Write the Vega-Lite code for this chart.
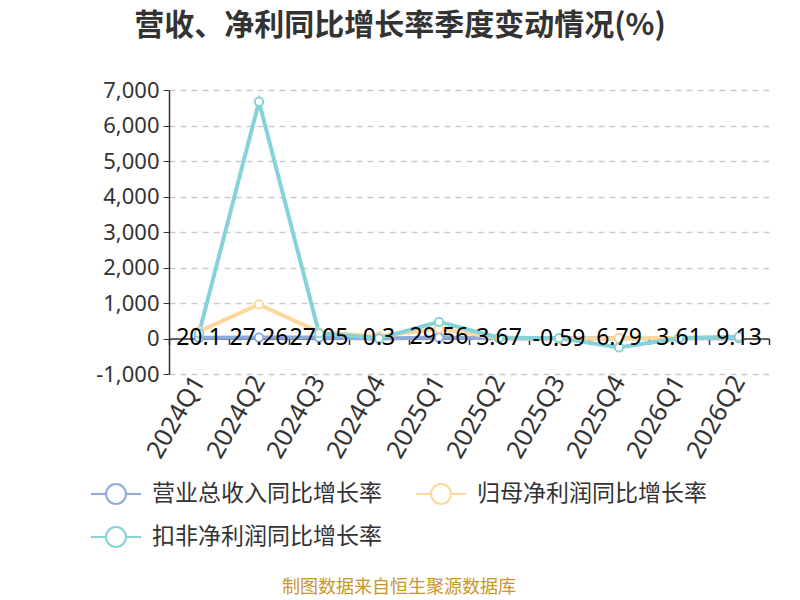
{
  "$schema": "https://vega.github.io/schema/vega-lite/v6.json",
  "autosize": {"type": "none"},
  "width": 600,
  "height": 284,
  "padding": {"left": 169, "top": 90, "right": 31, "bottom": 226},
  "background": "white",
  "title": {
    "text": "营收、净利同比增长率季度变动情况(%)",
    "fontSize": 30,
    "fontWeight": "bold",
    "color": "#333333",
    "font": "Noto Sans CJK SC",
    "anchor": "middle",
    "dx": -69,
    "offset": 38
  },
  "data": {
    "values": [
      {"quarter": "2024Q1", "series": "营业总收入同比增长率", "value": 20.1},
      {"quarter": "2024Q2", "series": "营业总收入同比增长率", "value": 27.26},
      {"quarter": "2024Q3", "series": "营业总收入同比增长率", "value": 27.05},
      {"quarter": "2024Q4", "series": "营业总收入同比增长率", "value": 0.3},
      {"quarter": "2025Q1", "series": "营业总收入同比增长率", "value": 29.56},
      {"quarter": "2025Q2", "series": "营业总收入同比增长率", "value": 3.67},
      {"quarter": "2025Q3", "series": "营业总收入同比增长率", "value": -0.59},
      {"quarter": "2025Q4", "series": "营业总收入同比增长率", "value": 6.79},
      {"quarter": "2026Q1", "series": "营业总收入同比增长率", "value": 3.61},
      {"quarter": "2026Q2", "series": "营业总收入同比增长率", "value": 9.13},
      {"quarter": "2024Q1", "series": "归母净利润同比增长率", "value": 200},
      {"quarter": "2024Q2", "series": "归母净利润同比增长率", "value": 960},
      {"quarter": "2024Q3", "series": "归母净利润同比增长率", "value": 180},
      {"quarter": "2024Q4", "series": "归母净利润同比增长率", "value": 60},
      {"quarter": "2025Q1", "series": "归母净利润同比增长率", "value": 280},
      {"quarter": "2025Q2", "series": "归母净利润同比增长率", "value": 10},
      {"quarter": "2025Q3", "series": "归母净利润同比增长率", "value": -10},
      {"quarter": "2025Q4", "series": "归母净利润同比增长率", "value": 10},
      {"quarter": "2026Q1", "series": "归母净利润同比增长率", "value": 20},
      {"quarter": "2026Q2", "series": "归母净利润同比增长率", "value": 40},
      {"quarter": "2024Q1", "series": "扣非净利润同比增长率", "value": 150},
      {"quarter": "2024Q2", "series": "扣非净利润同比增长率", "value": 6670},
      {"quarter": "2024Q3", "series": "扣非净利润同比增长率", "value": 150},
      {"quarter": "2024Q4", "series": "扣非净利润同比增长率", "value": 5},
      {"quarter": "2025Q1", "series": "扣非净利润同比增长率", "value": 470},
      {"quarter": "2025Q2", "series": "扣非净利润同比增长率", "value": 20},
      {"quarter": "2025Q3", "series": "扣非净利润同比增长率", "value": 10},
      {"quarter": "2025Q4", "series": "扣非净利润同比增长率", "value": -250},
      {"quarter": "2026Q1", "series": "扣非净利润同比增长率", "value": 5},
      {"quarter": "2026Q2", "series": "扣非净利润同比增长率", "value": 50}
    ]
  },
  "encoding": {
    "y": {
      "field": "value",
      "type": "quantitative",
      "scale": {"domain": [-1000, 7000], "nice": false, "zero": false},
      "axis": {
        "title": null,
        "values": [-1000, 0, 1000, 2000, 3000, 4000, 5000, 6000, 7000],
        "format": ",.0f",
        "labelExpr": "replace(datum.label, '\u2212', '-')",
        "labelFontSize": 22,
        "labelColor": "#333333",
        "labelFont": "Noto Sans",
        "labelPadding": 4,
        "domainColor": "#333333",
        "domainWidth": 1.5,
        "tickColor": "#333333",
        "tickSize": 6,
        "grid": true,
        "gridColor": "#cccccc",
        "gridDash": [6, 5],
        "gridWidth": 1.5
      }
    }
  },
  "layer": [
    {
      "mark": {
        "type": "line",
        "strokeWidth": 4,
        "point": {"filled": false, "fill": "white", "fillOpacity": 1, "size": 70, "strokeWidth": 2}
      },
      "encoding": {
        "x": {
          "field": "quarter",
          "type": "nominal",
          "sort": null,
          "scale": {"type": "band", "paddingInner": 0, "paddingOuter": 0},
          "axis": {
            "title": null,
            "orient": "bottom",
            "domain": false,
            "ticks": false,
            "grid": false,
            "labelAngle": -60,
            "labelFontSize": 25,
            "labelColor": "#333333",
            "labelFont": "Noto Sans",
            "labelPadding": 3
          }
        },
        "color": {
          "field": "series",
          "type": "nominal",
          "sort": null,
          "scale": {
            "domain": ["营业总收入同比增长率", "归母净利润同比增长率", "扣非净利润同比增长率"],
            "range": ["#8eaadc", "#fed89a", "#85d3d8"]
          },
          "legend": {
            "title": "制图数据来自恒生聚源数据库",
            "titleOrient": "bottom",
            "titleAnchor": "middle",
            "titleColor": "#c9962a",
            "titleFontSize": 18,
            "titleFontWeight": "normal",
            "titleFont": "Noto Sans CJK SC",
            "titleLimit": 600,
            "titlePadding": 28,
            "orient": "none",
            "legendX": -79,
            "legendY": 378,
            "direction": "horizontal",
            "columns": 2,
            "columnPadding": 30,
            "rowPadding": 3,
            "labelFontSize": 23,
            "labelColor": "#333333",
            "labelFont": "Noto Sans CJK SC",
            "labelOffset": 10,
            "labelLimit": 400,
            "symbolType": "M-1,0L-0.4,0M0.4,0L1,0M-0.4,0A0.4,0.4,0,1,1,0.4,0A0.4,0.4,0,1,1,-0.4,0Z",
            "symbolSize": 2500,
            "symbolStrokeWidth": 2,
            "symbolFillColor": "white"
          }
        }
      }
    },
    {
      "transform": [{"filter": "datum.series === '营业总收入同比增长率'"}],
      "mark": {"type": "text", "fontSize": 23, "font": "Noto Sans", "color": "black", "baseline": "middle", "align": "center"},
      "encoding": {
        "x": {
          "field": "quarter",
          "type": "nominal",
          "sort": null,
          "axis": {
            "title": null,
            "orient": "bottom",
            "offset": -35.5,
            "labels": false,
            "grid": false,
            "domain": true,
            "domainColor": "#333333",
            "domainWidth": 1.5,
            "ticks": true,
            "tickColor": "#333333",
            "tickSize": 6,
            "tickWidth": 1.5,
            "bandPosition": 1,
            "tickExtra": true
          }
        },
        "text": {"field": "value", "type": "nominal"}
      }
    }
  ],
  "resolve": {"axis": {"x": "independent"}},
  "config": {"view": {"stroke": null}}
}
